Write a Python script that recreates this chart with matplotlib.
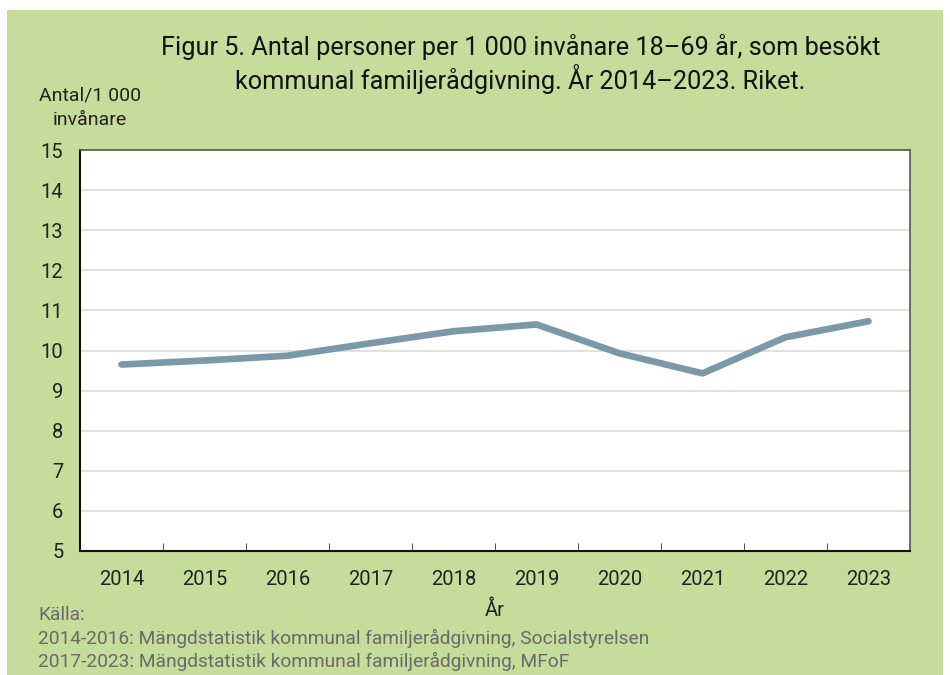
import numpy as np
import matplotlib.pyplot as plt
from matplotlib.patches import Rectangle

plt.rcParams['font.family'] = ['Roboto', 'DejaVu Sans']

# Data
years = ['2014', '2015', '2016', '2017', '2018', '2019', '2020', '2021', '2022', '2023']
values = [9.65, 9.75, 9.87, 10.18, 10.48, 10.65, 9.93, 9.43, 10.33, 10.73]
y_ticks = [5, 6, 7, 8, 9, 10, 11, 12, 13, 14, 15]
source_lines = [
    'Källa:',
    '2014-2016: Mängdstatistik kommunal familjerådgivning, Socialstyrelsen',
    '2017-2023: Mängdstatistik kommunal familjerådgivning, MFoF',
]

green = '#c5dc9b'
line_color = '#7a98a8'
text_color = '#222222'

fig = plt.figure(figsize=(9.5, 6.75), dpi=100)
fig.patch.set_facecolor('white')
# green panel behind everything
fig.patches.append(Rectangle((7 / 950, 0), 936 / 950, 665 / 675,
                             transform=fig.transFigure, facecolor=green,
                             edgecolor='none', zorder=-10))

ax = fig.add_axes([80 / 950, 124 / 675, 830 / 950, 401 / 675])
ax.set_facecolor('white')

x = np.arange(len(years))
ax.plot(x, values, color=line_color, linewidth=4.8, solid_capstyle='round', zorder=3)

ax.set_xlim(-0.5, len(years) - 0.5)
ax.set_ylim(5, 15)
ax.set_yticks(y_ticks)
ax.set_yticklabels([str(t) for t in y_ticks], fontsize=14.5, color=text_color)
ax.grid(axis='y', color='#dcdcd2', linewidth=1.2)
ax.set_axisbelow(True)

# category labels centred, ticks on category borders
ax.set_xticks(x)
ax.set_xticklabels(years, fontsize=14.5, color=text_color)
ax.tick_params(axis='x', which='major', length=0, pad=14)
ax.set_xticks(np.arange(0.5, len(years) - 1, 1), minor=True)
ax.tick_params(axis='x', which='minor', direction='in', length=6, color='#333333')
ax.tick_params(axis='y', length=0, pad=12)

for side in ['left', 'bottom']:
    ax.spines[side].set_color('#111111')
    ax.spines[side].set_linewidth(1.5)
for side in ['top', 'right']:
    ax.spines[side].set_color('#555555')
    ax.spines[side].set_linewidth(1.2)

ax.set_xlabel('År', fontsize=14.5, color=text_color, labelpad=8)

fig.text(0.548, 1 - 64 / 675, 'Figur 5. Antal personer per 1 000 invånare 18\u201369 år, som besökt\n'
         'kommunal familjerådgivning. År 2014\u20132023. Riket.',
         ha='center', va='center', fontsize=18.2, color='#111111', linespacing=1.15)
fig.text(90 / 950, 1 - 108 / 675, 'Antal/1 000\ninvånare', ha='center', va='center',
         fontsize=14, color=text_color, linespacing=1.45)

for i, line in enumerate(source_lines):
    fig.text(38 / 950, 1 - (615 + 23 * i) / 675, line, ha='left', va='center',
             fontsize=13.8, color='#6a6a6a')

fig.savefig('out.png', dpi=100, facecolor=fig.get_facecolor())
